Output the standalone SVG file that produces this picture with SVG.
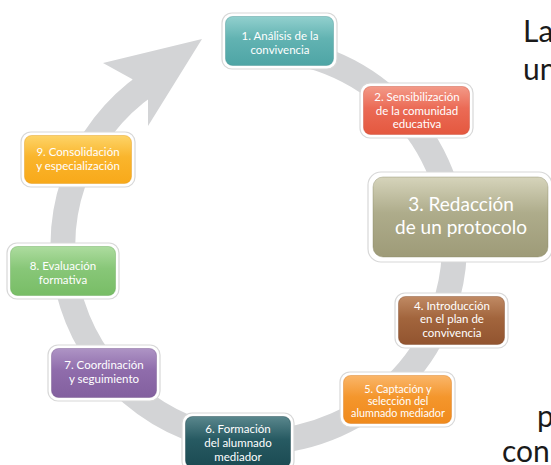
<svg xmlns="http://www.w3.org/2000/svg" width="551" height="465" viewBox="0 0 551 465">
<style>
.frame{fill:#ffffff;stroke:#d8d8d8;stroke-width:1.2}
.inner{stroke-width:0.8;stroke-opacity:0.5}
.t{font-family:Lato,"Open Sans","Liberation Sans",sans-serif;font-size:11.5px;fill:#ffffff;text-anchor:middle}
.big{font-size:19px}
.side{font-family:Lato,"Open Sans","Liberation Sans",sans-serif;font-size:30px;fill:#1a1a1a}
.ring{fill:none;stroke:#d3d4d6;stroke-width:25}
</style>
<defs>
<linearGradient id="g1" x1="0" y1="0" x2="0" y2="1"><stop offset="0" stop-color="#92d0ce"/><stop offset="0.45" stop-color="#62b3b2"/><stop offset="1" stop-color="#4ea5a5"/></linearGradient>
<linearGradient id="g2" x1="0" y1="0" x2="0" y2="1"><stop offset="0" stop-color="#f39a88"/><stop offset="0.45" stop-color="#eb6b56"/><stop offset="1" stop-color="#e4583f"/></linearGradient>
<linearGradient id="g3" x1="0" y1="0" x2="0" y2="1"><stop offset="0" stop-color="#d6d4bb"/><stop offset="0.45" stop-color="#aeac8b"/><stop offset="1" stop-color="#9e9b78"/></linearGradient>
<linearGradient id="g4" x1="0" y1="0" x2="0" y2="1"><stop offset="0" stop-color="#c08a64"/><stop offset="0.45" stop-color="#a2653d"/><stop offset="1" stop-color="#92542f"/></linearGradient>
<linearGradient id="g5" x1="0" y1="0" x2="0" y2="1"><stop offset="0" stop-color="#fab66a"/><stop offset="0.45" stop-color="#f4962c"/><stop offset="1" stop-color="#f08a1c"/></linearGradient>
<linearGradient id="g6" x1="0" y1="0" x2="0" y2="1"><stop offset="0" stop-color="#5a878d"/><stop offset="0.45" stop-color="#275a62"/><stop offset="1" stop-color="#1b4a52"/></linearGradient>
<linearGradient id="g7" x1="0" y1="0" x2="0" y2="1"><stop offset="0" stop-color="#ae94c5"/><stop offset="0.45" stop-color="#8f6cab"/><stop offset="1" stop-color="#83609f"/></linearGradient>
<linearGradient id="g8" x1="0" y1="0" x2="0" y2="1"><stop offset="0" stop-color="#addc9f"/><stop offset="0.45" stop-color="#88c778"/><stop offset="1" stop-color="#78bd66"/></linearGradient>
<linearGradient id="g9" x1="0" y1="0" x2="0" y2="1"><stop offset="0" stop-color="#fdd468"/><stop offset="0.45" stop-color="#fab52c"/><stop offset="1" stop-color="#f8a91a"/></linearGradient>
</defs>
<rect width="551" height="465" fill="#ffffff"/>

<g id="connectors">
<path class="ring" d="M 245.6 48.2 A 200 197 0 1 1 263 442 A 200 197 0 0 1 148.3 83.6"/>
<polygon fill="#d3d4d6" points="202,39 103,63 132,79 148,99 148,126"/>
</g>

<g id="node1">
<rect class="frame" x="222" y="13" width="115" height="56" rx="10"/>
<rect class="inner" x="225.5" y="16.5" width="108" height="49" rx="7" fill="url(#g1)" stroke="#3f8f8f"/>
<text class="t" x="280" y="40">1. Análisis de la</text>
<text class="t" x="280" y="54">convivencia</text>
</g>

<g id="node2">
<rect class="frame" x="360" y="83" width="113" height="55" rx="10"/>
<rect class="inner" x="363.5" y="86.5" width="106" height="48" rx="7" fill="url(#g2)" stroke="#c8452f"/>
<text class="t" x="417" y="101">2. Sensibilización</text>
<text class="t" x="417" y="114.5">de la comunidad</text>
<text class="t" x="417" y="128">educativa</text>
</g>

<g id="node3">
<rect class="frame" x="368" y="172" width="184" height="90" rx="13"/>
<rect class="inner" x="373" y="177" width="175" height="80" rx="10" fill="url(#g3)" stroke="#8a8866"/>
<text class="t big" x="461" y="211">3. Redacción</text>
<text class="t big" x="461" y="234">de un protocolo</text>
</g>

<g id="node4">
<rect class="frame" x="395" y="293" width="113" height="55" rx="10"/>
<rect class="inner" x="398.5" y="296.5" width="106" height="48" rx="7" fill="url(#g4)" stroke="#7a4424"/>
<text class="t" x="452" y="309.5">4. Introducción</text>
<text class="t" x="452" y="323">en el plan de</text>
<text class="t" x="452" y="336.5">convivencia</text>
</g>

<g id="node5">
<rect class="frame" x="340" y="372" width="115" height="55" rx="10"/>
<rect class="inner" x="343.5" y="375.5" width="108" height="48" rx="7" fill="url(#g5)" stroke="#d67410"/>
<text class="t" x="398" y="392.5" style="font-size:10.8px">5. Captación y</text>
<text class="t" x="398" y="404.5" style="font-size:10.8px">selección del</text>
<text class="t" x="398" y="416.5" style="font-size:10.8px">alumnado mediador</text>
</g>

<g id="node6">
<rect class="frame" x="182" y="413" width="112" height="58" rx="10"/>
<rect class="inner" x="185.5" y="416.5" width="105" height="51" rx="7" fill="url(#g6)" stroke="#123a40"/>
<text class="t" x="238" y="433">6. Formación</text>
<text class="t" x="238" y="447">del alumnado</text>
<text class="t" x="238" y="461">mediador</text>
</g>

<g id="node7">
<rect class="frame" x="48" y="345" width="112" height="56" rx="10"/>
<rect class="inner" x="51.5" y="348.5" width="105" height="49" rx="7" fill="url(#g7)" stroke="#6d4d88"/>
<text class="t" x="104" y="369">7. Coordinación</text>
<text class="t" x="104" y="383">y seguimiento</text>
</g>

<g id="node8">
<rect class="frame" x="7" y="243" width="112" height="56" rx="10"/>
<rect class="inner" x="10.5" y="246.5" width="105" height="49" rx="7" fill="url(#g8)" stroke="#5fa64d"/>
<text class="t" x="63" y="270">8. Evaluación</text>
<text class="t" x="63" y="284">formativa</text>
</g>

<g id="node9">
<rect class="frame" x="21" y="132" width="114" height="55" rx="10"/>
<rect class="inner" x="24.5" y="135.5" width="107" height="48" rx="7" fill="url(#g9)" stroke="#e0940c"/>
<text class="t" x="78" y="156">9. Consolidación</text>
<text class="t" x="78" y="170">y especialización</text>
</g>

<g id="side-text">
<text class="side" x="523" y="42">La</text>
<text class="side" x="523" y="80">un</text>
<text class="side" x="537" y="427">p</text>
<text class="side" x="502" y="462">con</text>
</g>
</svg>
